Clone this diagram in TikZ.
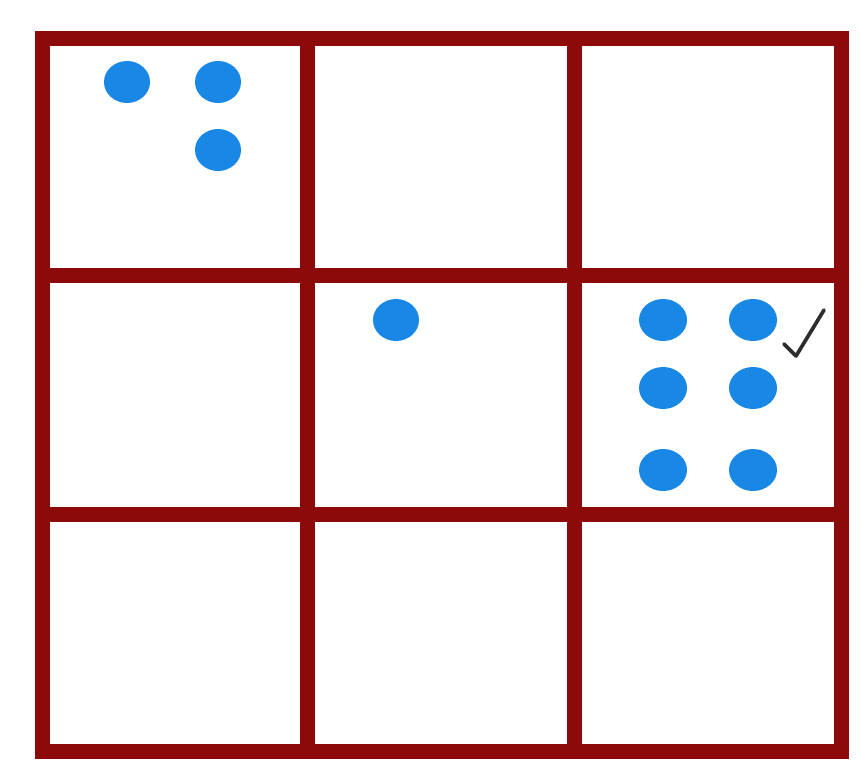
\documentclass[tikz,border=0pt]{standalone}
\usepackage{tikz}
\definecolor{gridred}{RGB}{140,10,10}
\definecolor{dotblue}{RGB}{25,135,230}
\definecolor{tickgray}{RGB}{45,45,45}
\begin{document}
\begin{tikzpicture}[x=0.3mm,y=-0.3mm,
  gridline/.style={draw=gridred,line width=4.5mm,line cap=rect},
  dot/.style={fill=dotblue},
  tick/.style={draw=tickgray,line width=1.1mm,line cap=round,line join=round}]
\useasboundingbox[fill=white] (0,0) rectangle (860,771);
% grid
\foreach \x in {42,307,574,841} \draw[gridline] (\x,38) -- (\x,751);
\foreach \y in {38,275,514,751} \draw[gridline] (42,\y) -- (841,\y);
% dots top-left cell
\foreach \p in {(127,82),(218,82),(218,150)} \fill[dot] \p ellipse [x radius=23, y radius=21];
% middle cell
\fill[dot] (396,320) ellipse [x radius=23, y radius=21];
% middle-right cell
\foreach \p in {(663,320),(753,320),(663,388),(753,388),(663,470),(753,470)} \fill[dot] \p ellipse [x radius=24, y radius=21];
% check mark
\draw[tick] (784,344) -- (796,356) -- (824,310);
\end{tikzpicture}
\end{document}
